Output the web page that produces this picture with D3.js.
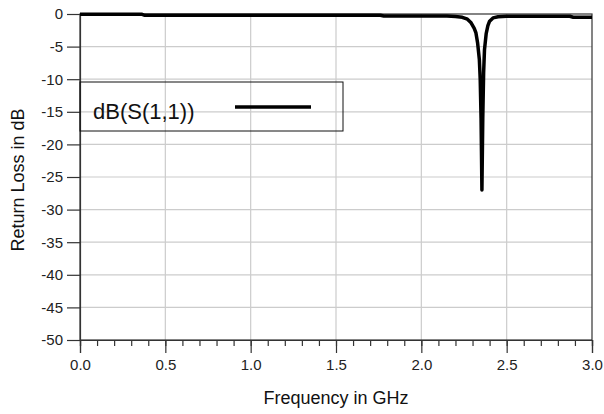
<!DOCTYPE html>
<html>
<head>
<meta charset="utf-8">
<script src="https://cdn.jsdelivr.net/npm/d3@7"></script>
<style>
  html, body { margin: 0; padding: 0; background: #fff; }
  svg { display: block; font-family: "Liberation Sans", Arial, sans-serif; }
</style>
</head>
<body>
<svg id="chart" width="604" height="414"></svg>
<script>
// Return loss of the antenna, dB(S(1,1)) versus frequency
const freqGHz = [0.0, 0.1, 0.2, 0.3, 0.36, 0.38, 0.5, 0.7, 0.9, 1.1, 1.3, 1.5, 1.7, 1.76, 1.78,
  1.9, 2.0, 2.1, 2.15, 2.2, 2.24, 2.27, 2.29, 2.31, 2.32, 2.33, 2.34, 2.345, 2.35, 2.355,
  2.36, 2.365, 2.37, 2.38, 2.39, 2.40, 2.42, 2.45, 2.5, 2.6, 2.7, 2.8, 2.87, 2.89, 2.95, 3.0];
const s11dB = [-0.02, -0.02, -0.02, -0.02, -0.02, -0.2, -0.2, -0.2, -0.2, -0.2, -0.2, -0.2, -0.2, -0.2, -0.3,
  -0.3, -0.3, -0.3, -0.32, -0.38, -0.5, -0.8, -1.3, -2.2, -2.9, -4.5, -7.0, -10.0, -16.0, -27.0,
  -16.0, -9.0, -5.5, -3.0, -1.8, -1.1, -0.6, -0.42, -0.35, -0.35, -0.35, -0.35, -0.35, -0.5, -0.5, -0.5];

const xTicks = [0.0, 0.5, 1.0, 1.5, 2.0, 2.5, 3.0];
const xMinorTicks = d3.range(0, 31).map(i => i / 10);
const yTicks = [0, -5, -10, -15, -20, -25, -30, -35, -40, -45, -50];
const legendLabel = "dB(S(1,1))";
const xTitle = "Frequency in GHz";
const yTitle = "Return Loss in dB";

const svg = d3.select("#chart");
const plotL = 80, plotR = 592, plotT = 14, plotB = 340;

const x = d3.scaleLinear().domain([0, 3]).range([plotL, plotR]);
const y = d3.scaleLinear().domain([-50, 0]).range([plotB, plotT]);

// grid
const grid = svg.append("g").attr("stroke", "#cccccc").attr("stroke-width", 1.2);
grid.selectAll("line.v").data(xTicks.slice(1, -1)).join("line").attr("class", "v")
  .attr("x1", d => x(d)).attr("x2", d => x(d)).attr("y1", plotT).attr("y2", plotB);
grid.selectAll("line.h").data(yTicks.slice(1, -1)).join("line").attr("class", "h")
  .attr("x1", plotL).attr("x2", plotR).attr("y1", d => y(d)).attr("y2", d => y(d));

// frame
svg.append("rect").attr("x", plotL).attr("y", plotT).attr("width", plotR - plotL).attr("height", plotB - plotT)
  .attr("fill", "none").attr("stroke", "#333").attr("stroke-width", 1.2);

// y axis
const yAxis = svg.append("g").attr("transform", `translate(${plotL},0)`)
  .call(d3.axisLeft(y).tickValues(yTicks).tickFormat(d3.format("d")).tickSize(13).tickPadding(4));
// minor x ticks
const xMinor = svg.append("g").attr("transform", `translate(0,${plotB})`)
  .call(d3.axisBottom(x).tickValues(xMinorTicks).tickFormat("").tickSize(6));
// major x ticks
const xAxis = svg.append("g").attr("transform", `translate(0,${plotB})`)
  .call(d3.axisBottom(x).tickValues(xTicks).tickFormat(d3.format(".1f")).tickSize(13).tickPadding(6));

[yAxis, xMinor, xAxis].forEach(g => {
  g.select(".domain").attr("stroke", "#333").attr("stroke-width", 1.2);
  g.selectAll(".tick line").attr("stroke", "#333").attr("stroke-width", 1.2);
  g.selectAll(".tick text").attr("fill", "#222").style("font-size", "15px")
    .style("font-family", "'Liberation Sans', Arial, sans-serif");
});
yAxis.selectAll(".tick text").text(d => d === 0 ? "0" : "-" + Math.abs(d));

// axis titles
svg.append("text").attr("x", (plotL + plotR) / 2).attr("y", 404).attr("text-anchor", "middle")
  .attr("fill", "#111").style("font-size", "18px").text(xTitle);
svg.append("text").attr("transform", `translate(24,${(plotT + plotB) / 2 + 3}) rotate(-90)`)
  .attr("text-anchor", "middle").attr("fill", "#111").style("font-size", "18px").text(yTitle);

// curve
const pts = freqGHz.map((f, i) => [f, s11dB[i]]);
svg.append("path").datum(pts)
  .attr("fill", "none").attr("stroke", "#000").attr("stroke-width", 3.5)
  .attr("stroke-linejoin", "round")
  .attr("d", d3.line().x(d => x(d[0])).y(d => y(d[1])));

// legend
const lg = svg.append("g");
lg.append("rect").attr("x", plotL).attr("y", 82).attr("width", 263).attr("height", 49)
  .attr("fill", "none").attr("stroke", "#111").attr("stroke-width", 1);
lg.append("text").attr("x", 93).attr("y", 119).attr("fill", "#111").style("font-size", "22px").text(legendLabel);
lg.append("line").attr("x1", 235).attr("x2", 311).attr("y1", 107).attr("y2", 107)
  .attr("stroke", "#000").attr("stroke-width", 3.5);
</script>
</body>
</html>
